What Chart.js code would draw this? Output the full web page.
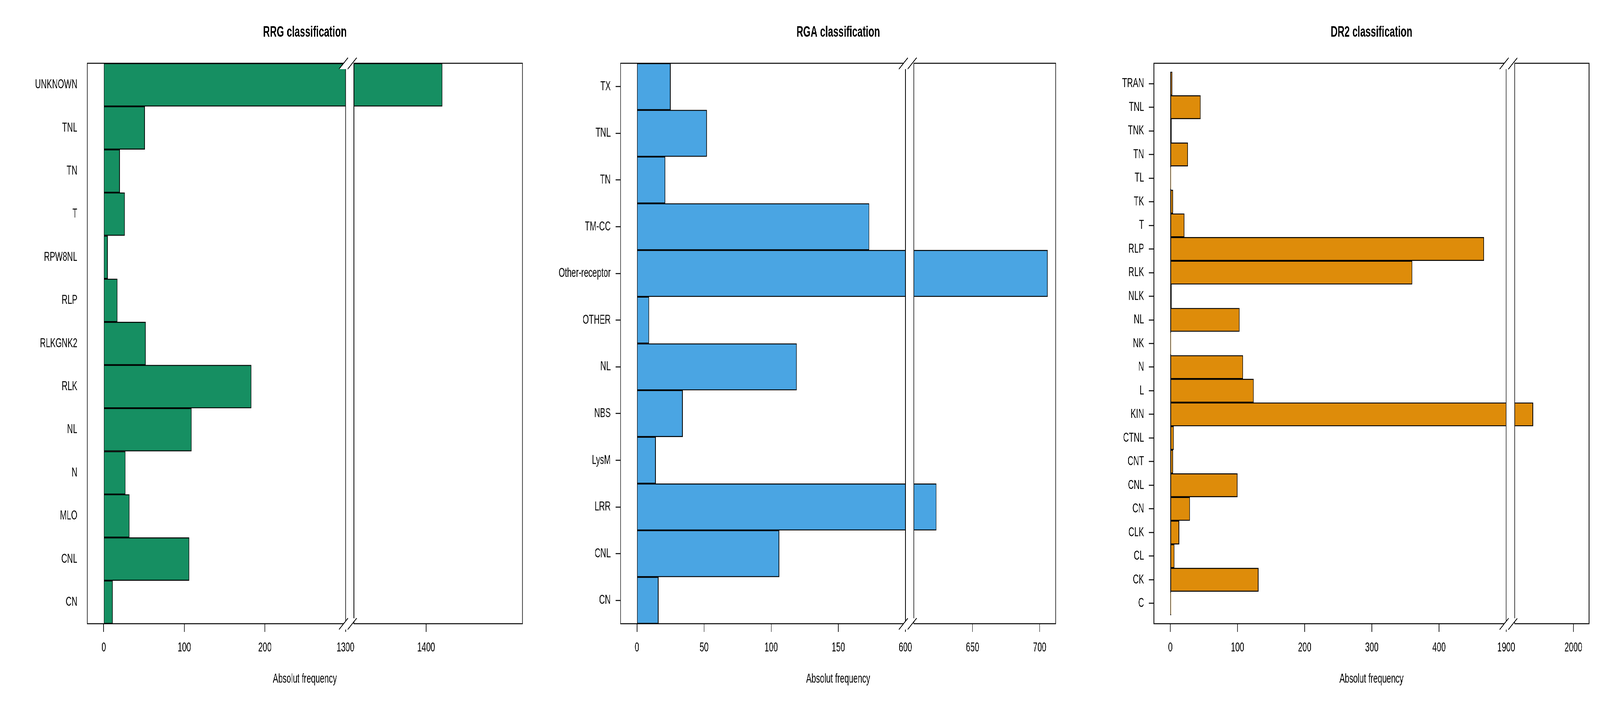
<!DOCTYPE html>
<html>
<head>
<meta charset="utf-8">
<script src="https://cdn.jsdelivr.net/npm/chart.js@4.4.1/dist/chart.umd.min.js"></script>
<style>
    html, body { margin: 0; padding: 0; background: #fff; overflow: hidden; }
    #wrap { position: relative; width: 6600px; height: 1800px; background: #fff; transform-origin: 0 0; }
    .panel { position: absolute; top: 0; width: 2200px; height: 1800px; }
    .panel canvas { position: absolute; left: 0; top: 0; }
</style>
</head>
<body>
<div id="wrap"></div>
<script>
// RRG classification (bottom to top)
const rrgLabels = ["CN", "CNL", "MLO", "N", "NL", "RLK", "RLKGNK2", "RLP", "RPW8NL", "T", "TN", "TNL", "UNKNOWN"];
const rrgValues = [11, 106, 32, 27, 109, 183, 52, 17, 5, 26, 20, 51, 1420];
const rrgTicksLeft = [0, 100, 200];
const rrgTicksRight = [1400];
const rrgGap = [300, 1300];
const rrgRange = [-20.4, 1519.5];

// RGA classification
const rgaLabels = ["CN", "CNL", "LRR", "LysM", "NBS", "NL", "OTHER", "Other-receptor", "TM-CC", "TN", "TNL", "TX"];
const rgaValues = [16, 106, 623, 14, 34, 119, 9, 706, 173, 21, 52, 25];
const rgaTicksLeft = [0, 50, 100, 150];
const rgaTicksRight = [650, 700];
const rgaGap = [200, 600];
const rgaRange = [-12.2, 712];

// DR2 classification
const dr2Labels = ["C", "CK", "CL", "CLK", "CN", "CNL", "CNT", "CTNL", "KIN", "L", "N", "NK", "NL", "NLK",
    "RLK", "RLP", "T", "TK", "TL", "TN", "TNK", "TNL", "TRAN"];
const dr2Values = [1, 131, 6, 13, 29, 100, 4, 5, 1940, 124, 108, 1, 103, 2, 360, 467, 21, 4, 1, 26, 2, 45, 3];
const dr2TicksLeft = [0, 100, 200, 300, 400];
const dr2TicksRight = [2000];
const dr2Gap = [500, 1900];
const dr2Range = [-24.4, 2023.4];

// layout of one panel (pixels, in a 6600x1800 page)
const PAGE_W = 6600, PAGE_H = 1800;
const PANEL_W = 2200, PANEL_H = 1800;
const FRAME_L = 360, FRAME_R = 2155, FRAME_T = 162, FRAME_B = 1597;
const GAP_PX = 35;
const X_AXIS_H = 120;
const LW = 2.5;
const FONT = '"Liberation Sans", Arial, Helvetica, sans-serif';

const panels = [
    { title: "RRG classification", labels: rrgLabels, values: rrgValues, ticksL: rrgTicksLeft, ticksR: rrgTicksRight,
      gap: rrgGap, range: rrgRange, color: "#168F62", yTicks: false, yPad: 0 },
    { title: "RGA classification", labels: rgaLabels, values: rgaValues, ticksL: rgaTicksLeft, ticksR: rgaTicksRight,
      gap: rgaGap, range: rgaRange, color: "#4AA5E3", yTicks: true, yPad: 0 },
    { title: "DR2 classification", labels: dr2Labels, values: dr2Values, ticksL: dr2TicksLeft, ticksR: dr2TicksRight,
      gap: dr2Gap, range: dr2Range, color: "#DE8C0A", yTicks: true, yPad: 0.36 }
];

// the "//" marks at the axis break, white under-fill first
function drawSlashes(ctx, xL, y) {
    const s = GAP_PX + 1;
    ctx.save();
    ctx.fillStyle = "#fff";
    ctx.beginPath();
    ctx.moveTo(xL - 27, y + 15);
    ctx.lineTo(xL + 10, y - 14);
    ctx.lineTo(xL + 10 + s, y - 14);
    ctx.lineTo(xL - 27 + s, y + 15);
    ctx.closePath();
    ctx.fill();
    ctx.strokeStyle = "#000";
    ctx.lineWidth = LW;
    ctx.beginPath();
    ctx.moveTo(xL - 27, y + 15);
    ctx.lineTo(xL + 10, y - 14);
    ctx.moveTo(xL - 27 + s, y + 15);
    ctx.lineTo(xL + 10 + s, y - 14);
    ctx.stroke();
    ctx.restore();
}

function makeDataset(p) {
    return {
        data: p.values.map((v, i) => ({ x: v, y: i })),
        backgroundColor: p.color,
        borderColor: "#000",
        borderWidth: LW,
        borderSkipped: false,
        barPercentage: 1,
        categoryPercentage: 1,
        clip: { left: 0, right: 0, top: 4, bottom: 4 }
    };
}

function xAxis(min, max, tickVals, labelFor) {
    return {
        type: "linear",
        position: "bottom",
        min: min,
        max: max,
        offset: false,
        afterFit: (s) => { s.height = X_AXIS_H; },
        afterBuildTicks: (s) => { s.ticks = tickVals.map(v => ({ value: v })); },
        ticks: {
            callback: (v) => labelFor(v),
            font: { family: FONT, size: 33 },
            color: "#000",
            padding: 21,
            autoSkip: false,
            maxRotation: 0
        },
        grid: { offset: false, drawOnChartArea: false, drawTicks: true, tickLength: 21, tickColor: "#000", tickWidth: LW },
        border: { display: false }
    };
}

function yAxis(p, yMin, yMax, show) {
    return {
        type: "linear",
        display: show,
        min: yMin,
        max: yMax,
        offset: false,
        afterFit: (s) => { s.width = show ? FRAME_L : 0; },
        afterBuildTicks: (s) => { s.ticks = p.labels.map((l, i) => ({ value: i })); },
        ticks: {
            callback: (v) => p.labels[v],
            font: { family: FONT, size: 33 },
            color: "#000",
            padding: 20,
            autoSkip: false
        },
        grid: { offset: false, drawOnChartArea: false, drawTicks: true, tickLength: 21,
                tickColor: p.yTicks ? "#000" : "rgba(0,0,0,0)", tickWidth: LW },
        border: { display: false }
    };
}

const wrap = document.getElementById("wrap");

panels.forEach((p, k) => {
    const div = document.createElement("div");
    div.className = "panel";
    div.style.left = (k * PANEL_W) + "px";
    wrap.appendChild(div);

    const xMin = p.range[0], xMax = p.range[1];
    const gapStart = p.gap[0], gapEnd = p.gap[1];
    const ppu = (FRAME_R - FRAME_L) / ((gapStart - xMin) + (xMax - gapEnd));
    const breakPx = FRAME_L + (gapStart - xMin) * ppu;
    const rightMin = gapEnd + GAP_PX / ppu;
    const yMin = -0.5 - p.yPad;
    const yMax = p.labels.length - 0.5 + p.yPad;
    const midX = (FRAME_L + FRAME_R) / 2;

    const cLeft = document.createElement("canvas");
    cLeft.width = PANEL_W; cLeft.height = PANEL_H;
    div.appendChild(cLeft);
    const cRight = document.createElement("canvas");
    cRight.width = PANEL_W; cRight.height = PANEL_H;
    div.appendChild(cRight);

    // left part: frame, title, axis title
    const leftDecor = {
        id: "leftDecor" + k,
        afterDraw(chart) {
            const ctx = chart.ctx, a = chart.chartArea;
            ctx.save();
            ctx.strokeStyle = "#000";
            ctx.lineWidth = LW;
            ctx.strokeRect(a.left, a.top, a.right - a.left, a.bottom - a.top);
            ctx.fillStyle = "#000";
            ctx.textAlign = "center";
            ctx.textBaseline = "middle";
            ctx.font = "bold 39px " + FONT;
            ctx.fillText(p.title, midX, 83);
            ctx.font = "33px " + FONT;
            ctx.fillText("Absolut frequency", midX, 1739);
            ctx.restore();
        }
    };

    // right part: frame and break marks
    const rightDecor = {
        id: "rightDecor" + k,
        afterDraw(chart) {
            const ctx = chart.ctx, a = chart.chartArea;
            ctx.save();
            ctx.strokeStyle = "#000";
            ctx.lineWidth = LW;
            ctx.strokeRect(a.left, a.top, a.right - a.left, a.bottom - a.top);
            ctx.restore();
            const xL = a.left - GAP_PX;
            drawSlashes(ctx, xL, a.top);
            drawSlashes(ctx, xL, a.bottom);
        }
    };

    const common = {
        indexAxis: "y",
        responsive: false,
        animation: false,
        devicePixelRatio: 1,
        events: [],
        plugins: { legend: { display: false }, tooltip: { enabled: false } }
    };

    new Chart(cLeft, {
        type: "bar",
        data: { datasets: [makeDataset(p)] },
        options: Object.assign({}, common, {
            layout: { padding: { left: 0, right: PANEL_W - breakPx, top: FRAME_T, bottom: PANEL_H - FRAME_B - X_AXIS_H } },
            scales: {
                x: xAxis(xMin, gapStart, p.ticksL.concat([gapStart]), (v) => String(v === gapStart ? gapEnd : v)),
                y: yAxis(p, yMin, yMax, true)
            }
        }),
        plugins: [leftDecor]
    });

    new Chart(cRight, {
        type: "bar",
        data: { datasets: [makeDataset(p)] },
        options: Object.assign({}, common, {
            layout: { padding: { left: breakPx + GAP_PX, right: PANEL_W - FRAME_R, top: FRAME_T, bottom: PANEL_H - FRAME_B - X_AXIS_H } },
            scales: {
                x: xAxis(rightMin, xMax, p.ticksR, (v) => String(v)),
                y: yAxis(p, yMin, yMax, false)
            }
        }),
        plugins: [rightDecor]
    });
});

// the window can be narrower than the 6600px page: fit the page into it
const sx = window.innerWidth / PAGE_W, sy = window.innerHeight / PAGE_H;
if (Math.abs(sx - 1) > 0.001 || Math.abs(sy - 1) > 0.001) {
    wrap.style.transform = "scale(" + sx + "," + sy + ")";
}
</script>
</body>
</html>
